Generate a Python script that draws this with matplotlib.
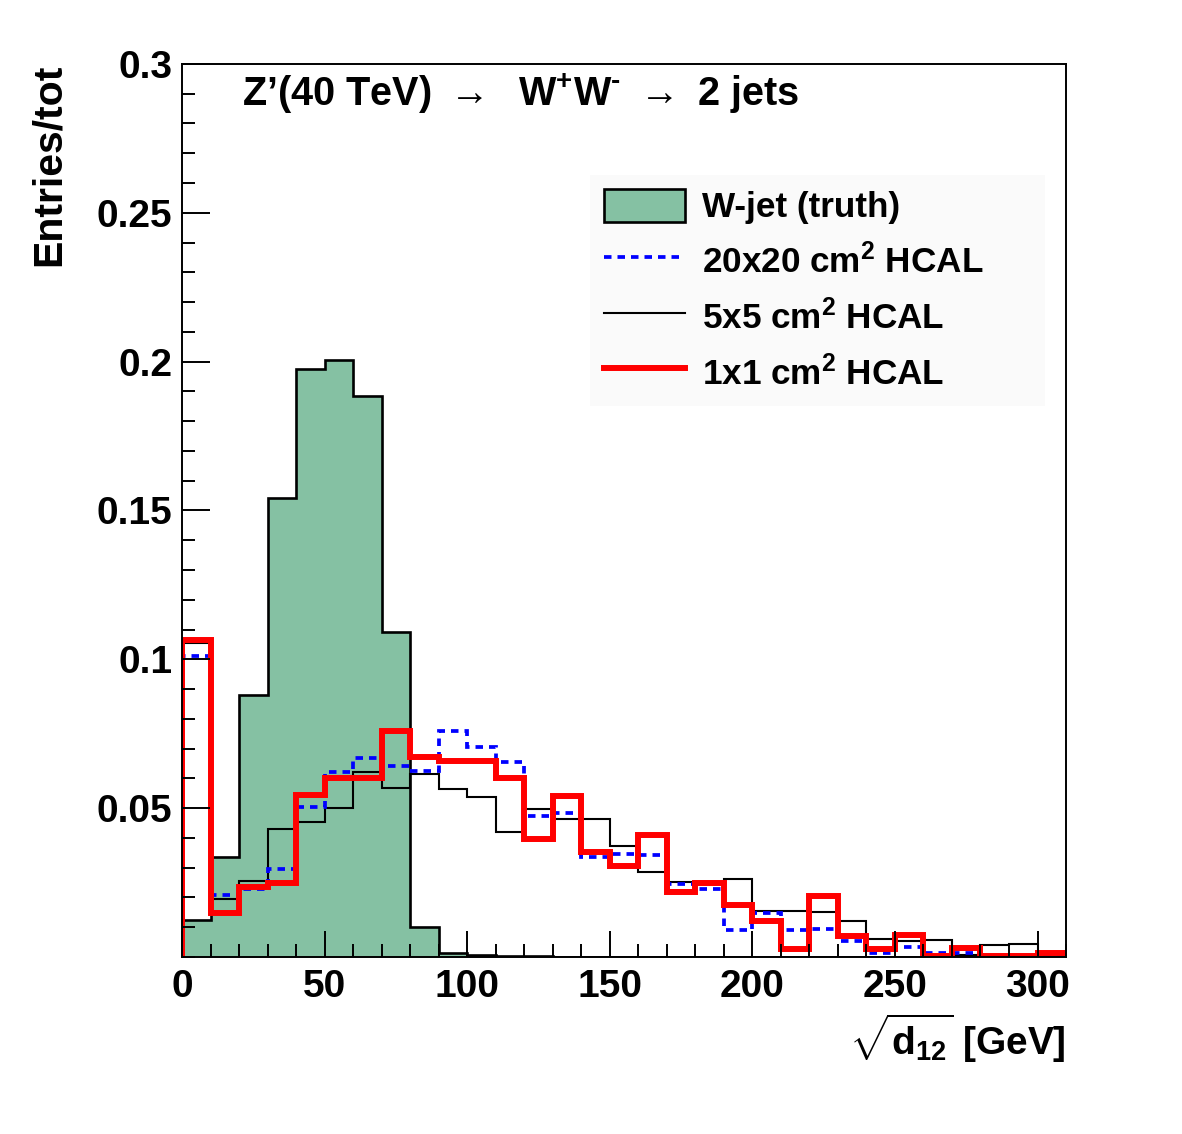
import numpy as np
import matplotlib
matplotlib.use("Agg")
import matplotlib.pyplot as plt
from matplotlib import ticker

plt.rcParams['font.family'] = ['Liberation Sans', 'DejaVu Sans']
plt.rcParams['font.weight'] = 'bold'
plt.rcParams['mathtext.fontset'] = 'custom'
plt.rcParams['mathtext.rm'] = 'Liberation Sans:bold'
plt.rcParams['mathtext.it'] = 'Liberation Sans:bold'
plt.rcParams['mathtext.bf'] = 'Liberation Sans:bold'

# bin edges, 10 GeV wide from 0 to 310
edges = np.arange(0, 320, 10)

# W-jet (truth)
truth = [0.0124, 0.0337, 0.0880, 0.1542, 0.1975, 0.2005, 0.1884, 0.1092, 0.0102, 0.0013,
         0.0006, 0.0004, 0.0003, 0, 0, 0, 0, 0, 0, 0,
         0, 0, 0, 0, 0, 0, 0, 0, 0, 0, 0]

# 20x20 cm2 HCAL
hcal20 = [0.1012, 0.0207, 0.0227, 0.0295, 0.0505, 0.0622, 0.0667, 0.0642, 0.0626, 0.0759,
          0.0704, 0.0654, 0.0475, 0.0483, 0.0336, 0.0345, 0.0342, 0.0244, 0.0228, 0.0091,
          0.0149, 0.0091, 0.0094, 0.0054, 0.0015, 0.0032, 0.0015, 0.0015, 0.0003, 0.0003, 0.0002]

# 5x5 cm2 HCAL
hcal5 = [0.1056, 0.0194, 0.0254, 0.0430, 0.0452, 0.0500, 0.0622, 0.0569, 0.0615, 0.0563,
         0.0536, 0.0421, 0.0496, 0.0463, 0.0463, 0.0374, 0.0284, 0.0253, 0.0253, 0.0261,
         0.0155, 0.0155, 0.0150, 0.0121, 0.0062, 0.0054, 0.0058, 0.0007, 0.0040, 0.0044, 0.0014]

# 1x1 cm2 HCAL
hcal1 = [0.1065, 0.0147, 0.0236, 0.0248, 0.0544, 0.0600, 0.0600, 0.0759, 0.0671, 0.0658,
         0.0658, 0.0600, 0.0395, 0.0542, 0.0352, 0.0307, 0.0410, 0.0218, 0.0248, 0.0174,
         0.0121, 0.0027, 0.0206, 0.0071, 0.0026, 0.0074, 0.0002, 0.0029, 0.0004, 0.0004, 0.0012]

labels = ['W-jet (truth)', r'20x20 cm$^{2}$ HCAL', r'5x5 cm$^{2}$ HCAL', r'1x1 cm$^{2}$ HCAL']

fig = plt.figure(figsize=(11.82, 11.34), dpi=100)
ax = fig.add_axes([0.154, 0.1561, 0.7479, 0.7875])

h0 = ax.stairs(truth, edges, fill=True, facecolor='#85c1a3', edgecolor='black', linewidth=1.9, label=labels[0])
h2 = ax.stairs(hcal5, edges, color='black', linewidth=1.5, label=labels[2])
h1 = ax.stairs(hcal20, edges, color='#0000ff', linewidth=2.7, linestyle=(0, (2.0, 1.6)), label=labels[1])
h3 = ax.stairs(hcal1, edges, color='#ff0000', linewidth=4.3, label=labels[3])

ax.set_xlim(0, 310)
ax.set_ylim(0, 0.3)

ax.xaxis.set_major_locator(ticker.MultipleLocator(50))
ax.xaxis.set_minor_locator(ticker.MultipleLocator(10))
ax.yaxis.set_major_locator(ticker.FixedLocator([0.05, 0.1, 0.15, 0.2, 0.25, 0.3]))
ax.yaxis.set_minor_locator(ticker.MultipleLocator(0.01))
ax.yaxis.set_major_formatter(ticker.FormatStrFormatter('%g'))

ax.tick_params(which='both', direction='in', width=1.4, labelsize=28, top=False, right=False)
ax.tick_params(axis='y', which='major', length=20, pad=7)
ax.tick_params(axis='y', which='minor', length=9.5)
ax.tick_params(axis='x', which='major', length=19, pad=9)
ax.tick_params(axis='x', which='minor', length=9.5)
for s in ax.spines.values():
    s.set_linewidth(1.4)

ax.set_ylabel('Entries/tot', fontsize=29.5, fontweight='bold', loc='top')
ax.yaxis.set_label_coords(-0.129, 1.0)
ax.set_xlabel(r'$\sqrt{d_{12}}$ [GeV]', fontsize=28, fontweight='bold', loc='right')
ax.xaxis.set_label_coords(1.0, -0.062)

ax.text(0.068, 0.966, r"Z’(40 TeV) $\rightarrow$  W$^{+}$W$^{\text{-}}$ $\rightarrow$ 2 jets",
        transform=ax.transAxes, fontsize=28.5, fontweight='bold', va='center', ha='left')

leg = ax.legend([h0, h1, h2, h3], labels, loc='upper left',
                bbox_to_anchor=(0.4615, 0.626, 0.5145, 0.2497), mode='expand',
                borderaxespad=0, fontsize=25.3, frameon=True, fancybox=False,
                handlelength=2.3, handleheight=1.05, handletextpad=0.5, labelspacing=0.55,
                borderpad=0.4)
leg.get_frame().set_facecolor('#fafafa')
leg.get_frame().set_edgecolor('none')
leg.get_frame().set_alpha(1)

fig.savefig('out.png', dpi=100, facecolor='white')
